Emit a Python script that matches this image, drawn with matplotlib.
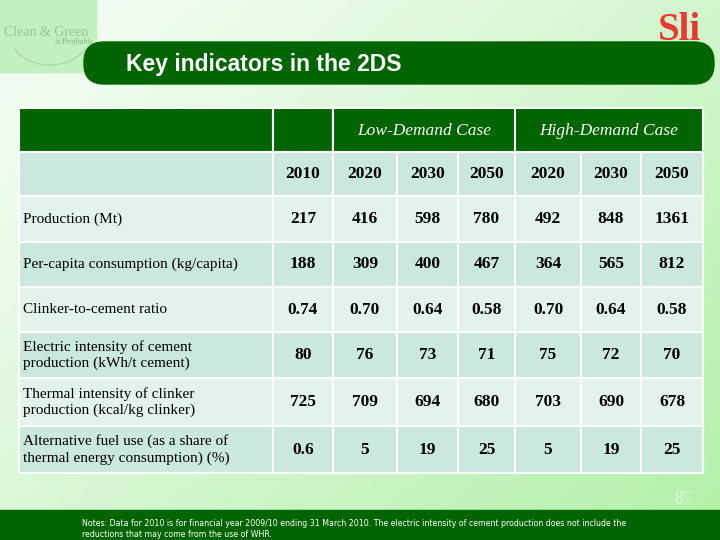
import matplotlib.pyplot as plt
import numpy as np
from matplotlib.patches import Rectangle, FancyBboxPatch, Arc

title = "Key indicators in the 2DS"
groups = ["Low-Demand Case", "High-Demand Case"]
years = ["2010", "2020", "2030", "2050", "2020", "2030", "2050"]
indicators = [
    "Production (Mt)",
    "Per-capita consumption (kg/capita)",
    "Clinker-to-cement ratio",
    "Electric intensity of cement\nproduction (kWh/t cement)",
    "Thermal intensity of clinker\nproduction (kcal/kg clinker)",
    "Alternative fuel use (as a share of\nthermal energy consumption) (%)",
]
values = [
    ["217", "416", "598", "780", "492", "848", "1361"],
    ["188", "309", "400", "467", "364", "565", "812"],
    ["0.74", "0.70", "0.64", "0.58", "0.70", "0.64", "0.58"],
    ["80", "76", "73", "71", "75", "72", "70"],
    ["725", "709", "694", "680", "703", "690", "678"],
    ["0.6", "5", "19", "25", "5", "19", "25"],
]
note = ("Notes: Data for 2010 is for financial year 2009/10 ending 31 March 2010. "
        "The electric intensity of cement production does not include the\n"
        "reductions that may come from the use of WHR.")

# column edges and row edges (pixels)
col_edges = [19, 273, 333, 397, 458, 515, 581, 641, 703]
row_edges = [108, 152, 196, 242, 287, 332, 378, 426, 473]

dark = "#006400"
row_dark = "#cbe8dc"
row_light = "#e3f3ec"

fig = plt.figure(figsize=(7.2, 5.4), dpi=100)
ax = fig.add_axes([0, 0, 1, 1])
ax.set_xlim(0, 720)
ax.set_ylim(540, 0)
ax.axis("off")

# background gradient
gx = np.linspace(0, 1, 200)
gy = np.linspace(0, 1, 150)
X, Y = np.meshgrid(gx, gy)
t = np.clip(0.6 * X + 0.5 * Y - 0.1, 0, 1)
c0 = np.array([0.95, 0.99, 0.95])
c1 = np.array([0.70, 0.94, 0.66])
img = c0[None, None, :] * (1 - t[..., None]) + c1[None, None, :] * t[..., None]
ax.imshow(img, extent=[0, 720, 540, 0], aspect="auto", zorder=0)

# logo box top-left
ax.add_patch(Rectangle((0, 0), 96, 72, color="#c4f0c0", zorder=1))
ax.add_patch(Arc((50, 38), 76, 54, theta1=15, theta2=165, color="#a8dca8",
                 lw=1, zorder=1))
ax.text(4, 33, "Clean & Green", family="Liberation Serif", fontsize=10,
        color="#93c898", va="center", zorder=2)
ax.text(93, 42, "is Profitable", family="Liberation Serif", fontsize=5.5,
        style="italic", color="#7fb482", ha="right", va="center", zorder=2)

# title bar
ax.add_patch(FancyBboxPatch((84, 42), 630, 42,
                            boxstyle="round,pad=0,rounding_size=20",
                            color=dark, zorder=2))
ax.text(126, 64, title, fontsize=16.5, fontweight="bold", color="white",
        family="Liberation Sans", va="center", zorder=3)
ax.text(680, 30, "Sli", family="Liberation Serif", fontsize=28,
        fontweight="bold", color="#e83a30", ha="center", va="center", zorder=3)

# table
ncols = len(col_edges) - 1
for r in range(len(row_edges) - 1):
    y0, y1 = row_edges[r], row_edges[r + 1]
    for c in range(ncols):
        x0, x1 = col_edges[c], col_edges[c + 1]
        if r == 0:
            fc = dark
        else:
            fc = row_dark if r % 2 == 1 else row_light
        ax.add_patch(Rectangle((x0, y0), x1 - x0, y1 - y0, facecolor=fc,
                               edgecolor="white", linewidth=1.5, zorder=3))

# header group cells (merged)
for g, (a, b) in enumerate([(2, 5), (5, 8)]):
    x0, x1 = col_edges[a], col_edges[b]
    y0, y1 = row_edges[0], row_edges[1]
    ax.add_patch(Rectangle((x0, y0), x1 - x0, y1 - y0, facecolor=dark,
                           edgecolor="white", linewidth=1.5, zorder=4))
    ax.text((x0 + x1) / 2, (y0 + y1) / 2 + 1, groups[g], fontsize=12.5,
            style="italic", color="white", family="Liberation Serif",
            ha="center", va="center", zorder=5)

for c, yr in enumerate(years):
    xc = (col_edges[c + 1] + col_edges[c + 2]) / 2
    ax.text(xc, (row_edges[1] + row_edges[2]) / 2, yr, fontsize=12.5,
            fontweight="bold", family="Liberation Serif", ha="center",
            va="center", zorder=5)

for r, lab in enumerate(indicators):
    yc = (row_edges[r + 2] + row_edges[r + 3]) / 2
    ax.text(col_edges[0] + 4, yc, lab, fontsize=11, family="Liberation Serif",
            ha="left", va="center", linespacing=1.3, zorder=5)
    for c, v in enumerate(values[r]):
        xc = (col_edges[c + 1] + col_edges[c + 2]) / 2
        ax.text(xc, yc, v, fontsize=12.5, fontweight="bold",
                family="Liberation Serif", ha="center", va="center", zorder=5)

# footer
ax.add_patch(Rectangle((0, 510), 720, 30, color=dark, zorder=2))
ax.text(683, 500, "87", fontsize=13, color="#d8f5d8", family="Liberation Serif",
        ha="center", va="center", zorder=3)
ax.text(82, 529, note, fontsize=5.7, color="white", family="DejaVu Sans",
        ha="left", va="center", linespacing=1.4, zorder=3)

fig.savefig("out.png", dpi=100)
